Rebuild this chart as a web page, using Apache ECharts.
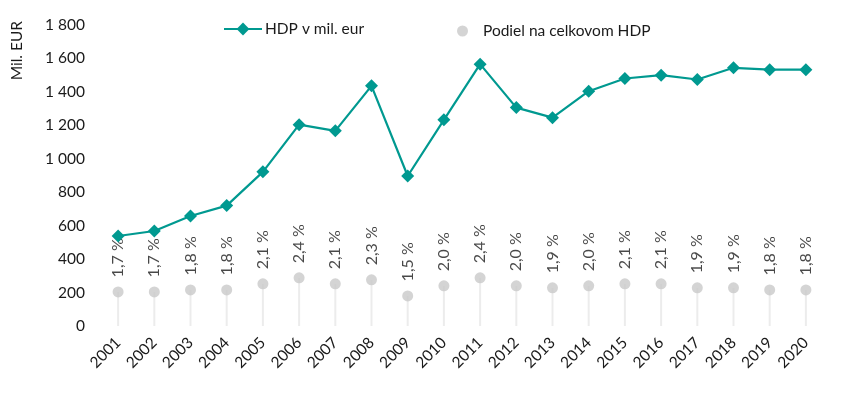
<!DOCTYPE html>
<html>
<head>
<meta charset="utf-8">
<script src="https://cdn.jsdelivr.net/npm/echarts@6/dist/echarts.min.js"></script>
<style>html,body{margin:0;padding:0;background:#fff;}#c{width:845px;height:399px;}</style>
</head>
<body>
<div id="c"></div>
<script>
const years = ['2001','2002','2003','2004','2005','2006','2007','2008','2009','2010','2011','2012','2013','2014','2015','2016','2017','2018','2019','2020'];
const hdp = [538, 568, 658, 720, 922, 1204, 1167, 1436, 897, 1233, 1566, 1306, 1246, 1404, 1480, 1500, 1474, 1544, 1533, 1533];
const share = [1.7, 1.7, 1.8, 1.8, 2.1, 2.4, 2.1, 2.3, 1.5, 2.0, 2.4, 2.0, 1.9, 2.0, 2.1, 2.1, 1.9, 1.9, 1.8, 1.8];
const yTicks = [0, 200, 400, 600, 800, 1000, 1200, 1400, 1600, 1800];

const FONT = 'Lato';
const TXT = '#1a1a1a';
const chart = echarts.init(document.getElementById('c'));
chart.setOption({
  animation: false,
  backgroundColor: '#fff',
  textStyle: { fontFamily: FONT },
  grid: { left: 100, right: 21, top: 25, bottom: 73 },
  legend: [
    { data: ['HDP v mil. eur'], left: 218, top: 16, itemWidth: 38, itemHeight: 16,
      textStyle: { fontFamily: FONT, fontSize: 15.5, color: TXT, padding: [0, 0, 0, -2] } },
    { data: [{ name: 'Podiel na celkovom HDP', icon: 'circle' }], left: 452, top: 18, itemWidth: 11, itemHeight: 11,
      textStyle: { fontFamily: FONT, fontSize: 15.5, color: TXT, padding: [0, 0, 0, 10] } }
  ],
  graphic: [{
    type: 'text', left: 9, top: 21, rotation: Math.PI / 2,
    style: { text: 'Mil. EUR', font: '15.5px ' + FONT, fill: TXT }
  }],
  xAxis: {
    type: 'category', data: years,
    axisLine: { show: false }, axisTick: { show: false },
    axisLabel: { rotate: 45, margin: 14, fontSize: 15.5, color: TXT, fontFamily: FONT }
  },
  yAxis: [
    { type: 'value', min: yTicks[0], max: yTicks[yTicks.length - 1], interval: 200,
      splitLine: { show: false }, axisLine: { show: false }, axisTick: { show: false },
      axisLabel: { margin: 15, fontSize: 15.5, color: TXT, fontFamily: FONT,
        formatter: v => String(v).replace(/\B(?=(\d{3})+(?!\d))/g, ' ') } },
    { type: 'value', min: 0, max: 15, show: false }
  ],
  series: [
    { name: 'stem', type: 'bar', yAxisIndex: 1, data: share, barWidth: 2,
      itemStyle: { color: '#ececec' }, silent: true, z: 1 },
    { name: 'Podiel na celkovom HDP', type: 'scatter', yAxisIndex: 1, data: share,
      symbol: 'circle', symbolSize: 11, itemStyle: { color: '#c9c9c9' }, z: 2,
      label: { show: true, position: 'top', rotate: 90, distance: 9, align: 'left', verticalAlign: 'middle',
        fontSize: 16, color: TXT, fontFamily: FONT,
        formatter: p => p.value.toFixed(1).replace('.', ',') + ' %' } },
    { name: 'HDP v mil. eur', type: 'line', data: hdp, symbol: 'diamond', symbolSize: 13,
      lineStyle: { color: '#009990', width: 2.2 }, itemStyle: { color: '#009990' }, z: 3 }
  ]
});
</script>
</body>
</html>
